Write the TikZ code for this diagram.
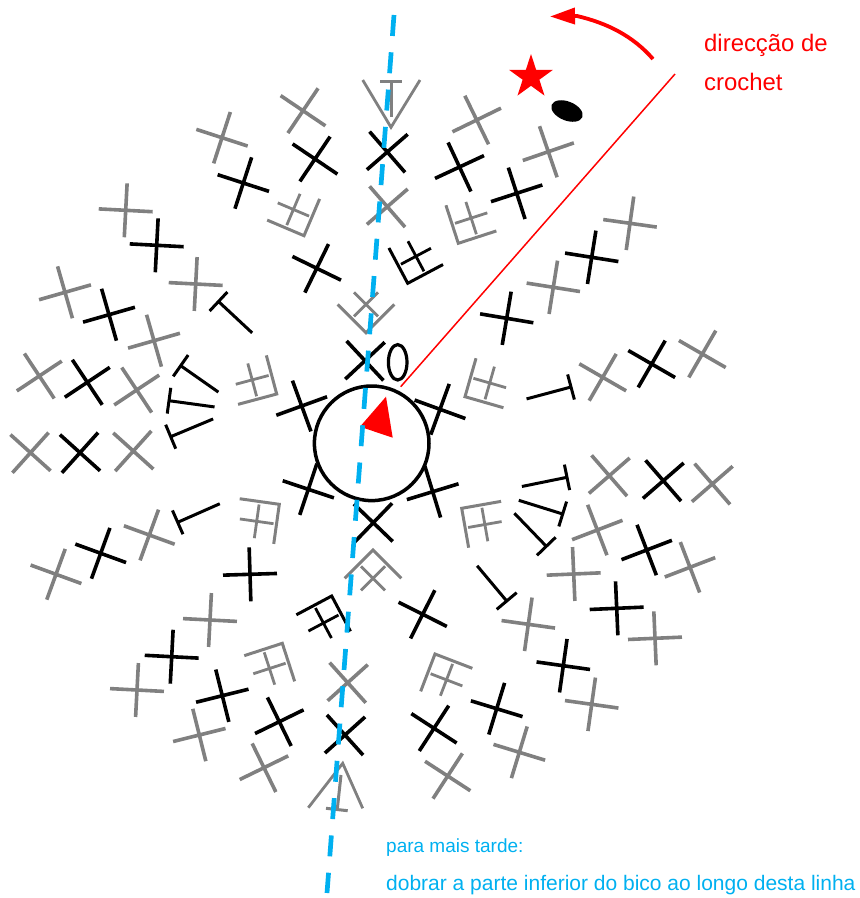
\documentclass[tikz,border=0pt]{standalone}
\usepackage{xcolor}
\usepackage{fontspec}
\setmainfont{Liberation Sans}
\usepackage{tikz}
\usetikzlibrary{shapes, arrows.meta, positioning}

\definecolor{stitchgray}{HTML}{808080}
\definecolor{foldblue}{HTML}{00B0F0}

\tikzset{
    crossmark/.pic={\draw[line width=3.6pt] (-27,0) -- (27,0) (0,-27) -- (0,27);},
    tmark/.pic={\draw[line width=3pt] (0,-13) -- (0,13) (0,0) -- (46,0);},
    boxmark/.pic={
        \draw[line width=3pt, miter limit=4] (40,0) -- (0,0) -- (0,-40);
        \draw[line width=2.8pt] (3,-20) -- (37,-20) (20,-3) -- (20,-37);
    },
    redtext/.style={red, anchor=base west, inner sep=0pt, font=\fontsize{23.9}{24}\selectfont},
    smallblue/.style={foldblue, anchor=base west, inner sep=0pt, font=\fontsize{19}{19}\selectfont},
    bluetext/.style={foldblue, anchor=base west, inner sep=0pt, font=\fontsize{21}{21}\selectfont}
}

\begin{document}
\begin{tikzpicture}[x=1pt, y=-1pt]
    \useasboundingbox (0,0) rectangle (860,898);

    % Top fan
    \pic[stitchgray, rotate=-34] at (303,110.7) {crossmark};
    \pic[stitchgray, rotate=-18] at (222,137.7) {crossmark};
    \pic[rotate=-18] at (243.3,183) {crossmark};
    \pic[rotate=-34] at (315,159) {crossmark};
    \pic[rotate=-49] at (387.3,152) {crossmark};
    \pic[stitchgray, rotate=-49] at (387.3,206.7) {crossmark};
    \pic[rotate=25] at (459.5,167) {crossmark};
    \pic[stitchgray, rotate=-64] at (476.7,120) {crossmark};
    \pic[stitchgray, rotate=-71] at (548.3,151.7) {crossmark};
    \pic[rotate=-72] at (516.7,193.3) {crossmark};
    \pic[rotate=-26] at (316.7,268.3) {crossmark};

    % Upper boxes
    \pic[stitchgray, rotate=67] at (304,235.7) {boxmark};
    \pic[stitchgray, rotate=18] at (458.3,243.3) {boxmark};
    \pic[rotate=28] at (407.7,283.3) {boxmark};
    \pic[stitchgray, rotate=45] at (366,332.7) {boxmark};

    % Top V with T
    \draw[stitchgray, line width=2.8pt] (362.7,80) -- (391,127.3) -- (420,80);
    \draw[stitchgray, line width=3pt] (380,81.7) -- (401.7,81.7) (391,81.7) -- (391,116.7);

    % Upper right fan
    \pic[stitchgray, rotate=-8] at (630,223.3) {crossmark};
    \pic[rotate=-9] at (591.7,257.3) {crossmark};
    \pic[stitchgray, rotate=-9] at (553.3,287.3) {crossmark};
    \pic[rotate=-9.5] at (506.7,318.3) {crossmark};
    \pic[stitchgray, rotate=-30] at (602.7,377.3) {crossmark};
    \pic[rotate=-30] at (651.7,364) {crossmark};
    \pic[stitchgray, rotate=-30] at (702.3,354) {crossmark};
    \pic[rotate=195] at (571,387) {tmark};
    \pic[stitchgray, rotate=-16] at (465,396.7) {boxmark};

    % Lower right fan
    \pic[stitchgray, rotate=-49] at (609.3,475.7) {crossmark};
    \pic[rotate=-49] at (663.3,480.7) {crossmark};
    \pic[stitchgray, rotate=-49] at (712.3,484) {crossmark};
    \pic[stitchgray, rotate=21] at (597.3,530) {crossmark};
    \pic[rotate=21] at (646.7,550) {crossmark};
    \pic[stitchgray, rotate=21] at (690,567.3) {crossmark};
    \pic[stitchgray, rotate=2.5] at (573.7,574) {crossmark};
    \pic[rotate=2.5] at (616.7,608.3) {crossmark};
    \pic[stitchgray, rotate=2.5] at (655,638.3) {crossmark};
    \pic[stitchgray, rotate=-8] at (528.3,624.3) {crossmark};
    \pic[rotate=-8] at (563.3,665.7) {crossmark};
    \pic[stitchgray, rotate=-8] at (591.7,704.3) {crossmark};
    \pic[rotate=191.5] at (567,477.3) {tmark};
    \pic[rotate=162.7] at (562.7,514) {tmark};
    \pic[rotate=134] at (546.3,546.3) {tmark};
    \pic[rotate=130] at (506.7,601) {tmark};
    \pic[stitchgray, rotate=-80] at (461.7,508.3) {boxmark};

    % Bottom fan
    \pic[rotate=-26.7] at (422.7,614.3) {crossmark};
    \pic[rotate=-17] at (496.7,708.7) {crossmark};
    \pic[stitchgray, rotate=-17] at (519.3,752.3) {crossmark};
    \pic[rotate=-33] at (434,728.3) {crossmark};
    \pic[stitchgray, rotate=-33] at (447.7,776) {crossmark};
    \pic[stitchgray, rotate=-48] at (347.7,682.7) {crossmark};
    \pic[rotate=-48] at (345,735) {crossmark};
    \pic[stitchgray, rotate=225] at (373,550) {boxmark};
    \pic[rotate=208] at (331.7,596) {boxmark};
    \pic[stitchgray, rotate=249] at (435,654) {boxmark};

    % Bottom V with T
    \draw[stitchgray, line width=2.8pt] (308.3,807.7) -- (342.7,763.3) -- (362.7,808.3);
    \draw[stitchgray, line width=3pt] (326,808.3) -- (347.7,810.7) (341,775) -- (337.3,809);

    % Lower left fan
    \pic[stitchgray, rotate=-20] at (56,574.3) {crossmark};
    \pic[rotate=-20] at (100.7,553.3) {crossmark};
    \pic[stitchgray, rotate=-20] at (149.3,535) {crossmark};
    \pic[rotate=23.8] at (177.7,522.3) {tmark};
    \pic[rotate=1.8] at (250,574.3) {crossmark};
    \pic[stitchgray, rotate=-3] at (210,620) {crossmark};
    \pic[rotate=-3] at (171.7,656.7) {crossmark};
    \pic[stitchgray, rotate=-3] at (137,690) {crossmark};
    \pic[rotate=14] at (222.3,695.7) {crossmark};
    \pic[stitchgray, rotate=14] at (199.3,735) {crossmark};
    \pic[rotate=26] at (279.3,721.7) {crossmark};
    \pic[stitchgray, rotate=26] at (264,767.7) {crossmark};
    \pic[stitchgray, rotate=172] at (279.3,504.3) {boxmark};
    \pic[stitchgray, rotate=198] at (282.3,643.3) {boxmark};

    % Upper left fan
    \pic[stitchgray, rotate=-3] at (125.7,210.3) {crossmark};
    \pic[rotate=-3] at (156.7,245.3) {crossmark};
    \pic[stitchgray, rotate=-3] at (195.7,284) {crossmark};
    \pic[rotate=-43] at (218.5,301.5) {tmark};
    \pic[stitchgray, rotate=16] at (65,292.3) {crossmark};
    \pic[rotate=16] at (109,314.7) {crossmark};
    \pic[stitchgray, rotate=16] at (154,340.7) {crossmark};
    \pic[stitchgray, rotate=33.6] at (39.3,376) {crossmark};
    \pic[rotate=33.6] at (87.3,382.3) {crossmark};
    \pic[stitchgray, rotate=33.6] at (136.7,390) {crossmark};
    \pic[stitchgray, rotate=48] at (30.5,452.7) {crossmark};
    \pic[rotate=48] at (80,452.7) {crossmark};
    \pic[stitchgray, rotate=48] at (133.3,451) {crossmark};
    \pic[rotate=-35] at (180.7,365.7) {tmark};
    \pic[rotate=-7.8] at (169,400.7) {tmark};
    \pic[rotate=22.7] at (170.7,436.7) {tmark};
    \pic[stitchgray, rotate=105] at (276.7,394) {boxmark};

    % Centre ring
    \pic[rotate=-47] at (365,360.7) {crossmark};
    \pic[rotate=-20] at (440,409.3) {crossmark};
    \pic[rotate=20] at (301.7,406) {crossmark};
    \pic[rotate=-18.5] at (308.3,489.3) {crossmark};
    \pic[rotate=17] at (432.7,491.7) {crossmark};
    \pic[rotate=-44] at (373.3,522.7) {crossmark};
    \draw[line width=3.5pt] (371.7,443.3) circle (57.3);
    \draw[line width=3.2pt] (397.7,362.3) ellipse (9.3 and 17.7);

    % Start marks
    \fill[red] (386,396.7) -- (360,426.7) -- (392.7,437.7) -- cycle;
    \node[star, star points=5, star point ratio=2.618, fill=red, inner sep=0pt, minimum size=46pt] (startstar) at (531,77) {};
    \fill[rotate around={-22:(567,111)}] (567,111) ellipse (16.5 and 9.5);

    % Direction
    \draw[red, line width=1.5pt] (675,74) -- (400.7,386.7);
    \draw[red, line width=3.8pt, -{Triangle[length=25pt, width=16pt]}] (653,59) .. controls (633,36) and (607,23) .. (577,16) -- (550,16.5);
    \node[redtext] (dirline) at (704,51.7) {direcção de};
    \node[redtext] (crochetline) at (704,90) {crochet};

    % Fold line
    \draw[foldblue, line width=4.7pt, dash pattern=on 21pt off 16.4pt] (394,15) -- (327,893);
    \node[smallblue] (laterline) at (386,852.7) {para mais tarde:};
    \node[bluetext] (foldline) at (386,890.7) {dobrar a parte inferior do bico ao longo desta linha};
\end{tikzpicture}
\end{document}
